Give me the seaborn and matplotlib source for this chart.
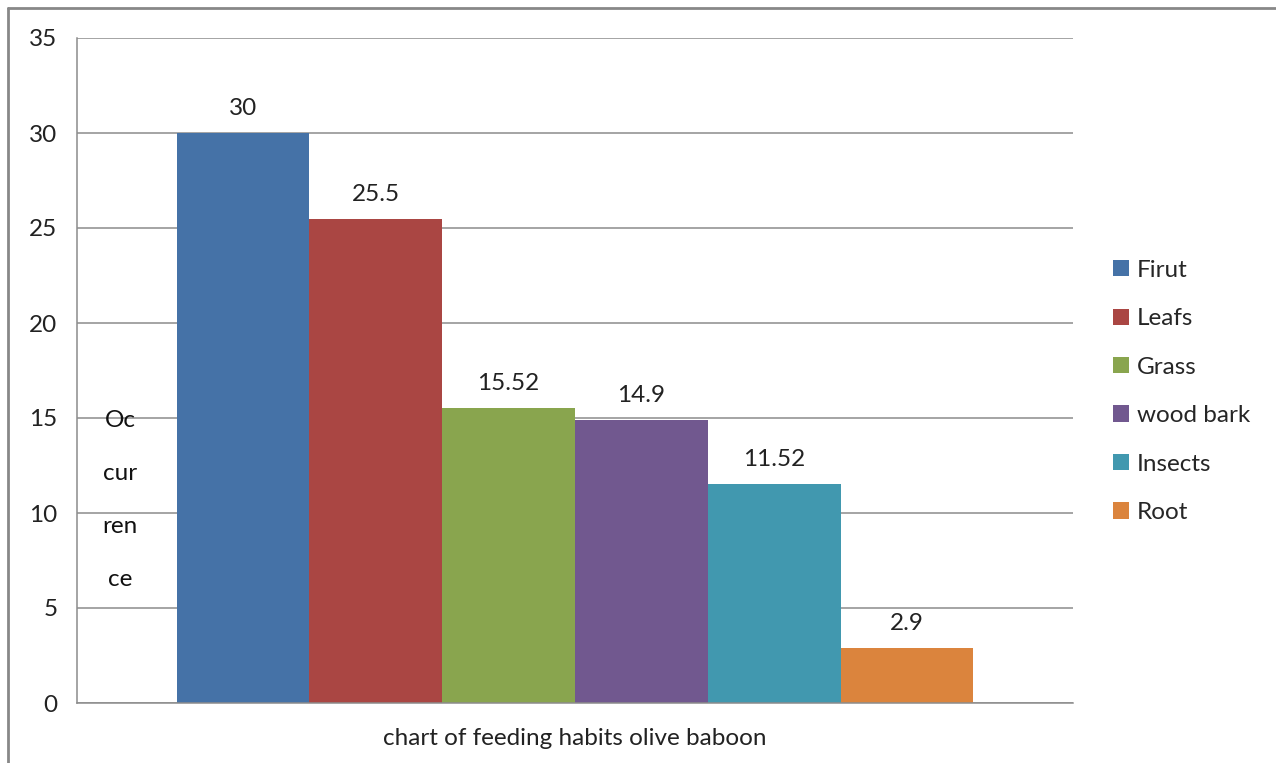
import matplotlib
matplotlib.use("Agg")
import matplotlib.pyplot as plt
import seaborn as sns
import pandas as pd
from matplotlib.lines import Line2D
from matplotlib.patches import Patch

category = ["chart of feeding habits olive baboon"]
series = ["Firut", "Leafs", "Grass", "wood bark", "Insects", "Root"]
values = [30, 25.5, 15.52, 14.9, 11.52, 2.9]
value_labels = ["30", "25.5", "15.52", "14.9", "11.52", "2.9"]
colors = ["#4572A7", "#AA4643", "#89A54E", "#71588F", "#4198AF", "#DB843D"]
y_ticks = [0, 5, 10, 15, 20, 25, 30, 35]
y_label = "Oc\ncur\nren\nce"

sns.set_style("white")
plt.rcParams["font.family"] = ["Lato", "DejaVu Sans"]
FS = 17.5

df = pd.DataFrame({"cat": category * len(series), "series": series, "value": values})

fig = plt.figure(figsize=(12.76, 7.63), dpi=100)
ax = fig.add_axes([77 / 1276, 1 - 703 / 763, (1073 - 77) / 1276, (703 - 38) / 763])

sns.barplot(data=df, x="cat", y="value", hue="series", hue_order=series,
            palette=colors, width=0.8, dodge=True, saturation=1,
            edgecolor="none", linewidth=0, legend=False, ax=ax)

ax.set_xlim(-0.5, 0.5)
ax.set_ylim(0, 35)
ax.set_yticks(y_ticks)
ax.yaxis.grid(True, color="#8c8c8c", linewidth=1.1)
ax.set_axisbelow(True)
for s in ["top", "right"]:
    ax.spines[s].set_visible(False)
for s in ["left", "bottom"]:
    ax.spines[s].set_color("#8c8c8c")
    ax.spines[s].set_linewidth(1.1)

ax.tick_params(axis="y", which="major", direction="inout", length=16, width=1.1,
               color="#8c8c8c", labelsize=FS, labelcolor="#222222", pad=6)
ax.tick_params(axis="x", which="major", length=0, labelsize=FS, labelcolor="#222222", pad=18)
ax.set_xticks([-0.5, 0.5], minor=True)
ax.tick_params(axis="x", which="minor", direction="out", length=9, width=1.1, color="#8c8c8c")
ax.set_xlabel("")

ax.set_ylabel(y_label, rotation=0, fontsize=FS, color="#111111", linespacing=2.88,
              ha="center", va="center")
ax.yaxis.set_label_coords((120 - 77) / 996, (703 - 500) / 665)

for cont, lab in zip(ax.containers, value_labels):
    ax.bar_label(cont, labels=[lab], padding=10, fontsize=FS, color="#222222")

handles = [Patch(facecolor=c, edgecolor="none", label=s) for c, s in zip(colors, series)]
fig.legend(handles=handles, loc="upper left", bbox_to_anchor=(1103 / 1276, 1 - 250 / 763),
           frameon=False, fontsize=FS, handlelength=0.65, handleheight=0.65,
           handletextpad=0.35, labelspacing=1.13, borderaxespad=0)

fig.add_artist(Line2D([8 / 1276, 8 / 1276], [0, 1 - 8 / 763], transform=fig.transFigure,
                      color="#888888", linewidth=2))
fig.add_artist(Line2D([8 / 1276, 1], [1 - 8 / 763, 1 - 8 / 763], transform=fig.transFigure,
                      color="#888888", linewidth=2))

fig.savefig("out.png", dpi=100)
